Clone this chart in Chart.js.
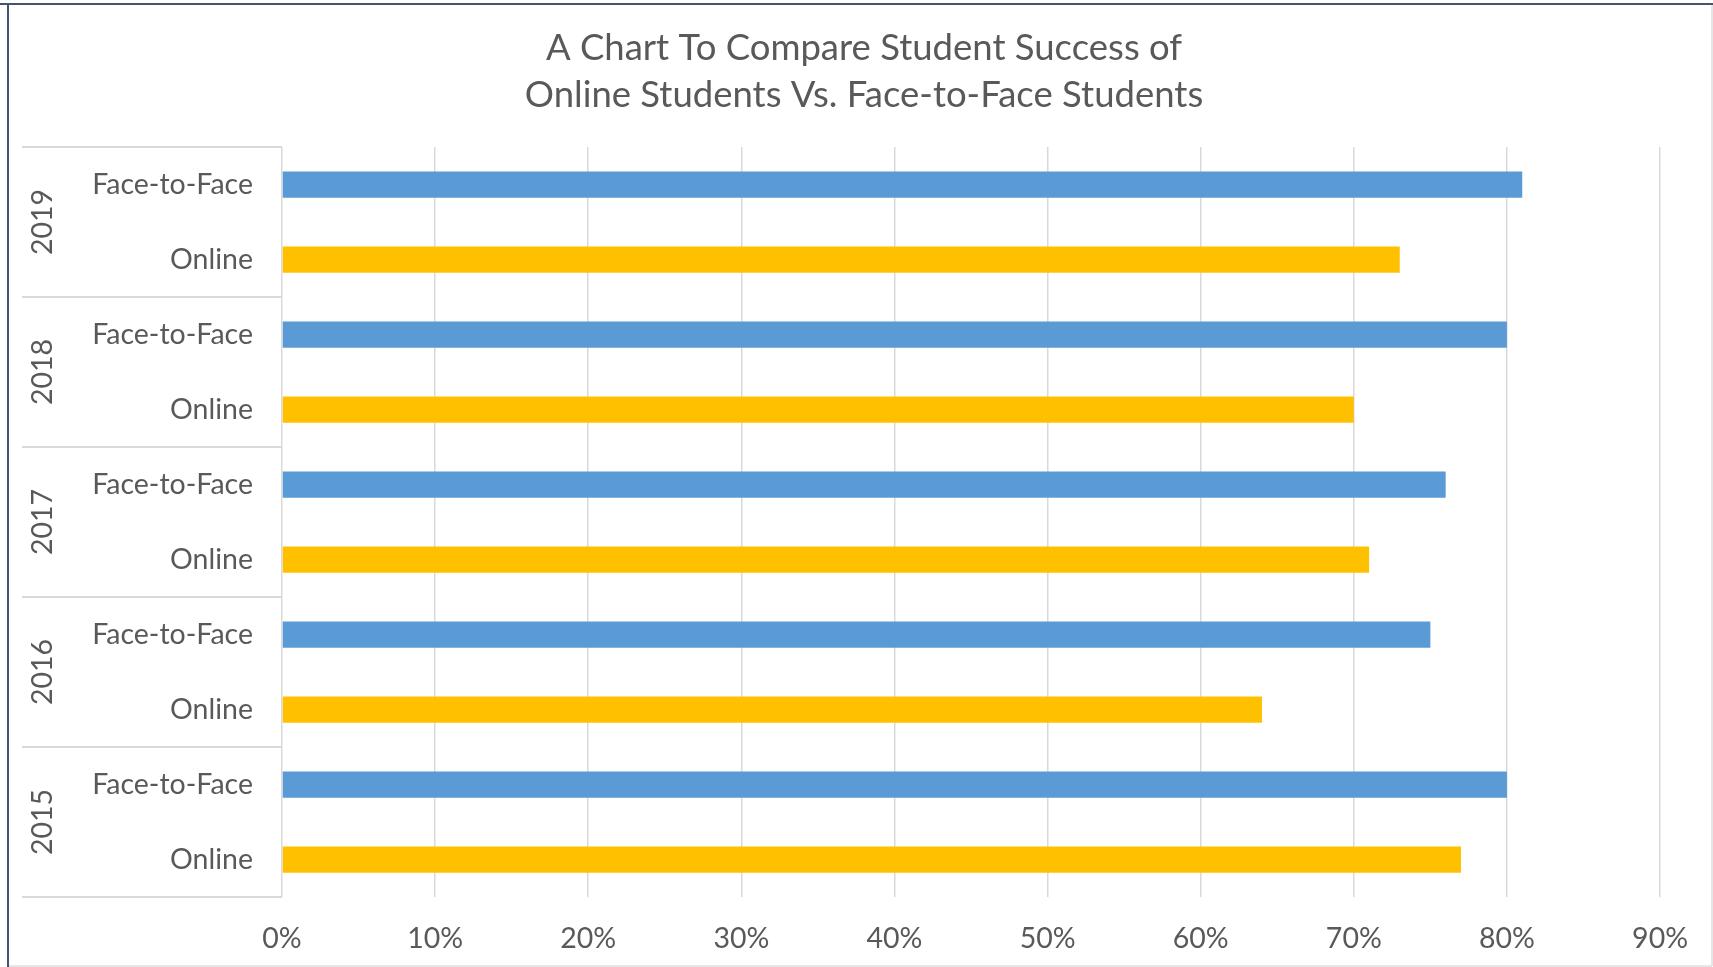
<!DOCTYPE html>
<html>
<head>
<meta charset="utf-8">
<title>Student Success: Online vs Face-to-Face</title>
<script src="https://cdn.jsdelivr.net/npm/chart.js@4.4.1/dist/chart.umd.min.js"></script>
<style>
  html, body { margin: 0; padding: 0; background: #fff; }
  canvas { display: block; }
</style>
</head>
<body>
<canvas id="successChart" width="1713" height="967"></canvas>
<script>
// data
const years = ['2019', '2018', '2017', '2016', '2015'];
const modes = ['Face-to-Face', 'Online'];
const faceToFace = [81, 80, 76, 75, 80];
const online = [73, 70, 71, 64, 77];
const xTickMax = 90;
const xTickStep = 10;

const textColor = '#595959';
const gridColor = '#D9D9D9';
const labelFont = { family: 'Lato', size: 28.5 };

// one row per year+mode, top to bottom
const rowLabels = [];
const rowModes = [];
const f2fRows = [];
const onlineRows = [];
years.forEach((year, i) => {
    rowLabels.push(year + ' ' + modes[0]);
    rowModes.push(modes[0]);
    f2fRows.push(faceToFace[i]);
    onlineRows.push(null);

    rowLabels.push(year + ' ' + modes[1]);
    rowModes.push(modes[1]);
    f2fRows.push(null);
    onlineRows.push(online[i]);
});

// white background + frame round the chart
const frame = {
    id: 'frame',
    beforeDraw(chart) {
        const ctx = chart.ctx;
        ctx.save();
        ctx.fillStyle = '#fff';
        ctx.fillRect(0, 0, chart.width, chart.height);
        ctx.strokeStyle = '#E6E6E6';
        ctx.lineWidth = 2;
        ctx.beginPath();
        ctx.moveTo(1712, 4);
        ctx.lineTo(1712, 966);
        ctx.moveTo(8, 966);
        ctx.lineTo(1712, 966);
        ctx.stroke();
        ctx.strokeStyle = '#44546A';
        ctx.beginPath();
        ctx.moveTo(0, 4);
        ctx.lineTo(1713, 4);
        ctx.moveTo(8, 4);
        ctx.lineTo(8, 967);
        ctx.stroke();
        ctx.restore();
    }
};

// year boxes on the left side of the category axis
const yearGroups = {
    id: 'yearGroups',
    afterDraw(chart) {
        const { ctx, chartArea } = chart;
        const y = chart.scales.y;
        const slot = y.getPixelForValue(1) - y.getPixelForValue(0);
        const lineLeft = 22;
        ctx.save();
        ctx.strokeStyle = gridColor;
        ctx.lineWidth = 2;
        ctx.fillStyle = textColor;
        ctx.font = labelFont.size + 'px ' + labelFont.family;
        ctx.textAlign = 'center';
        ctx.textBaseline = 'middle';
        years.forEach((year, i) => {
            const top = y.getPixelForValue(i * 2) - slot / 2;
            const bottom = y.getPixelForValue(i * 2 + 1) + slot / 2;
            ctx.beginPath();
            ctx.moveTo(lineLeft, top);
            ctx.lineTo(chartArea.left, top);
            ctx.moveTo(lineLeft, bottom);
            ctx.lineTo(chartArea.left, bottom);
            ctx.stroke();

            ctx.save();
            ctx.translate(43, (top + bottom) / 2);
            ctx.rotate(-Math.PI / 2);
            ctx.fillText(year, 0, 0);
            ctx.restore();
        });
        ctx.restore();
    }
};

const ctx = document.getElementById('successChart').getContext('2d');
new Chart(ctx, {
    type: 'bar',
    data: {
        labels: rowLabels,
        datasets: [
            {
                label: modes[0],
                data: f2fRows,
                backgroundColor: '#5B9BD5',
                barPercentage: 0.35,
                categoryPercentage: 1
            },
            {
                label: modes[1],
                data: onlineRows,
                backgroundColor: '#FFC000',
                barPercentage: 0.35,
                categoryPercentage: 1
            }
        ]
    },
    options: {
        indexAxis: 'y',
        responsive: false,
        animation: false,
        layout: { padding: { top: 0, left: 62, right: 47, bottom: 0 } },
        plugins: {
            legend: { display: false },
            tooltip: { enabled: false },
            title: {
                display: true,
                text: ['A Chart To Compare Student Success of', 'Online Students Vs. Face-to-Face Students'],
                color: textColor,
                font: { family: 'Lato', size: 36.5, weight: 'normal', lineHeight: 47 / 36.5 },
                padding: { top: 24.5, bottom: 28.5 }
            }
        },
        scales: {
            x: {
                stacked: true,
                min: 0,
                max: xTickMax,
                ticks: {
                    stepSize: xTickStep,
                    callback: v => v + '%',
                    color: textColor,
                    font: labelFont,
                    padding: 25
                },
                grid: { color: gridColor, lineWidth: 1.5, drawTicks: false },
                border: { display: false },
                afterFit: scale => { scale.height = 70; }
            },
            y: {
                stacked: true,
                grid: { display: false },
                border: { display: false },
                ticks: {
                    callback: (v, i) => rowModes[i],
                    color: textColor,
                    font: labelFont,
                    padding: 21
                },
                afterFit: scale => { scale.width = 220; }
            }
        }
    },
    plugins: [frame, yearGroups]
});
</script>
</body>
</html>
